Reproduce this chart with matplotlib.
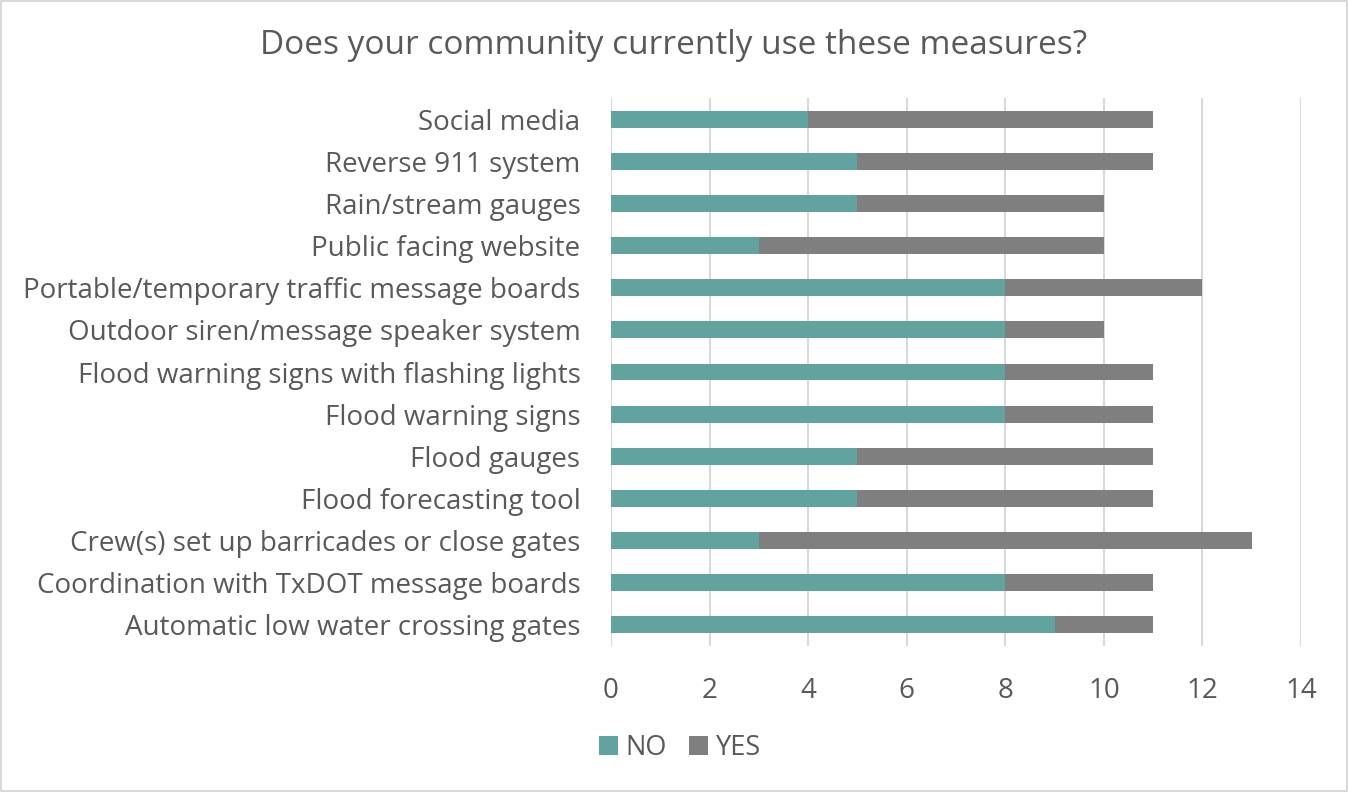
import numpy as np
import matplotlib.pyplot as plt
from matplotlib.patches import Rectangle

# categories from top to bottom as shown in the chart
categories = [
    "Social media",
    "Reverse 911 system",
    "Rain/stream gauges",
    "Public facing website",
    "Portable/temporary traffic message boards",
    "Outdoor siren/message speaker system",
    "Flood warning signs with flashing lights",
    "Flood warning signs",
    "Flood gauges",
    "Flood forecasting tool",
    "Crew(s) set up barricades or close gates",
    "Coordination with TxDOT message boards",
    "Automatic low water crossing gates",
]
no_counts = [4, 5, 5, 3, 8, 8, 8, 8, 5, 5, 3, 8, 9]
yes_counts = [7, 6, 5, 7, 4, 2, 3, 3, 6, 6, 10, 3, 2]
x_ticks = [0, 2, 4, 6, 8, 10, 12, 14]

TEAL = "#62A39F"
GRAY = "#7F7F7F"
TEXT = "#595959"

plt.rcParams['font.family'] = ['Open Sans', 'DejaVu Sans']

fig = plt.figure(figsize=(13.48, 7.92), dpi=100)
ax = fig.add_axes([611 / 1348, 1 - 646 / 792, 690 / 1348, 548 / 792])

y = np.arange(len(categories))
ax.barh(y, no_counts, height=0.4, color=TEAL, label="NO", zorder=3)
ax.barh(y, yes_counts, left=no_counts, height=0.4, color=GRAY, label="YES", zorder=3)

ax.set_ylim(len(categories) - 0.5, -0.5)
ax.set_xlim(0, 14)
ax.set_yticks(y)
ax.set_yticklabels(categories, fontsize=20, color=TEXT)
ax.set_xticks(x_ticks)
ax.set_xticklabels([str(t) for t in x_ticks], fontsize=20, color=TEXT)
ax.tick_params(axis='both', length=0)
ax.tick_params(axis='y', pad=22)
ax.tick_params(axis='x', pad=22)
ax.xaxis.grid(True, color="#D9D9D9", linewidth=1.5, zorder=0)
for s in ax.spines.values():
    s.set_visible(False)
ax.axvline(0, color="#D9D9D9", linewidth=1.5, zorder=1)

fig.text(0.5, 1 - 45 / 792, "Does your community currently use these measures?",
         ha='center', va='center', fontsize=24, color=TEXT)

leg = fig.legend(loc='center', bbox_to_anchor=(680 / 1348, 1 - 748 / 792), ncol=2,
                 frameon=False, fontsize=19.5, handlelength=0.7, handleheight=0.7,
                 handletextpad=0.3, columnspacing=0.8)
for t in leg.get_texts():
    t.set_color(TEXT)

fig.patches.append(Rectangle((0.001, 0.001), 0.998, 0.998, transform=fig.transFigure,
                             fill=False, edgecolor="#D9D9D9", linewidth=1.5))

fig.savefig("out.png", dpi=100, facecolor="white")
